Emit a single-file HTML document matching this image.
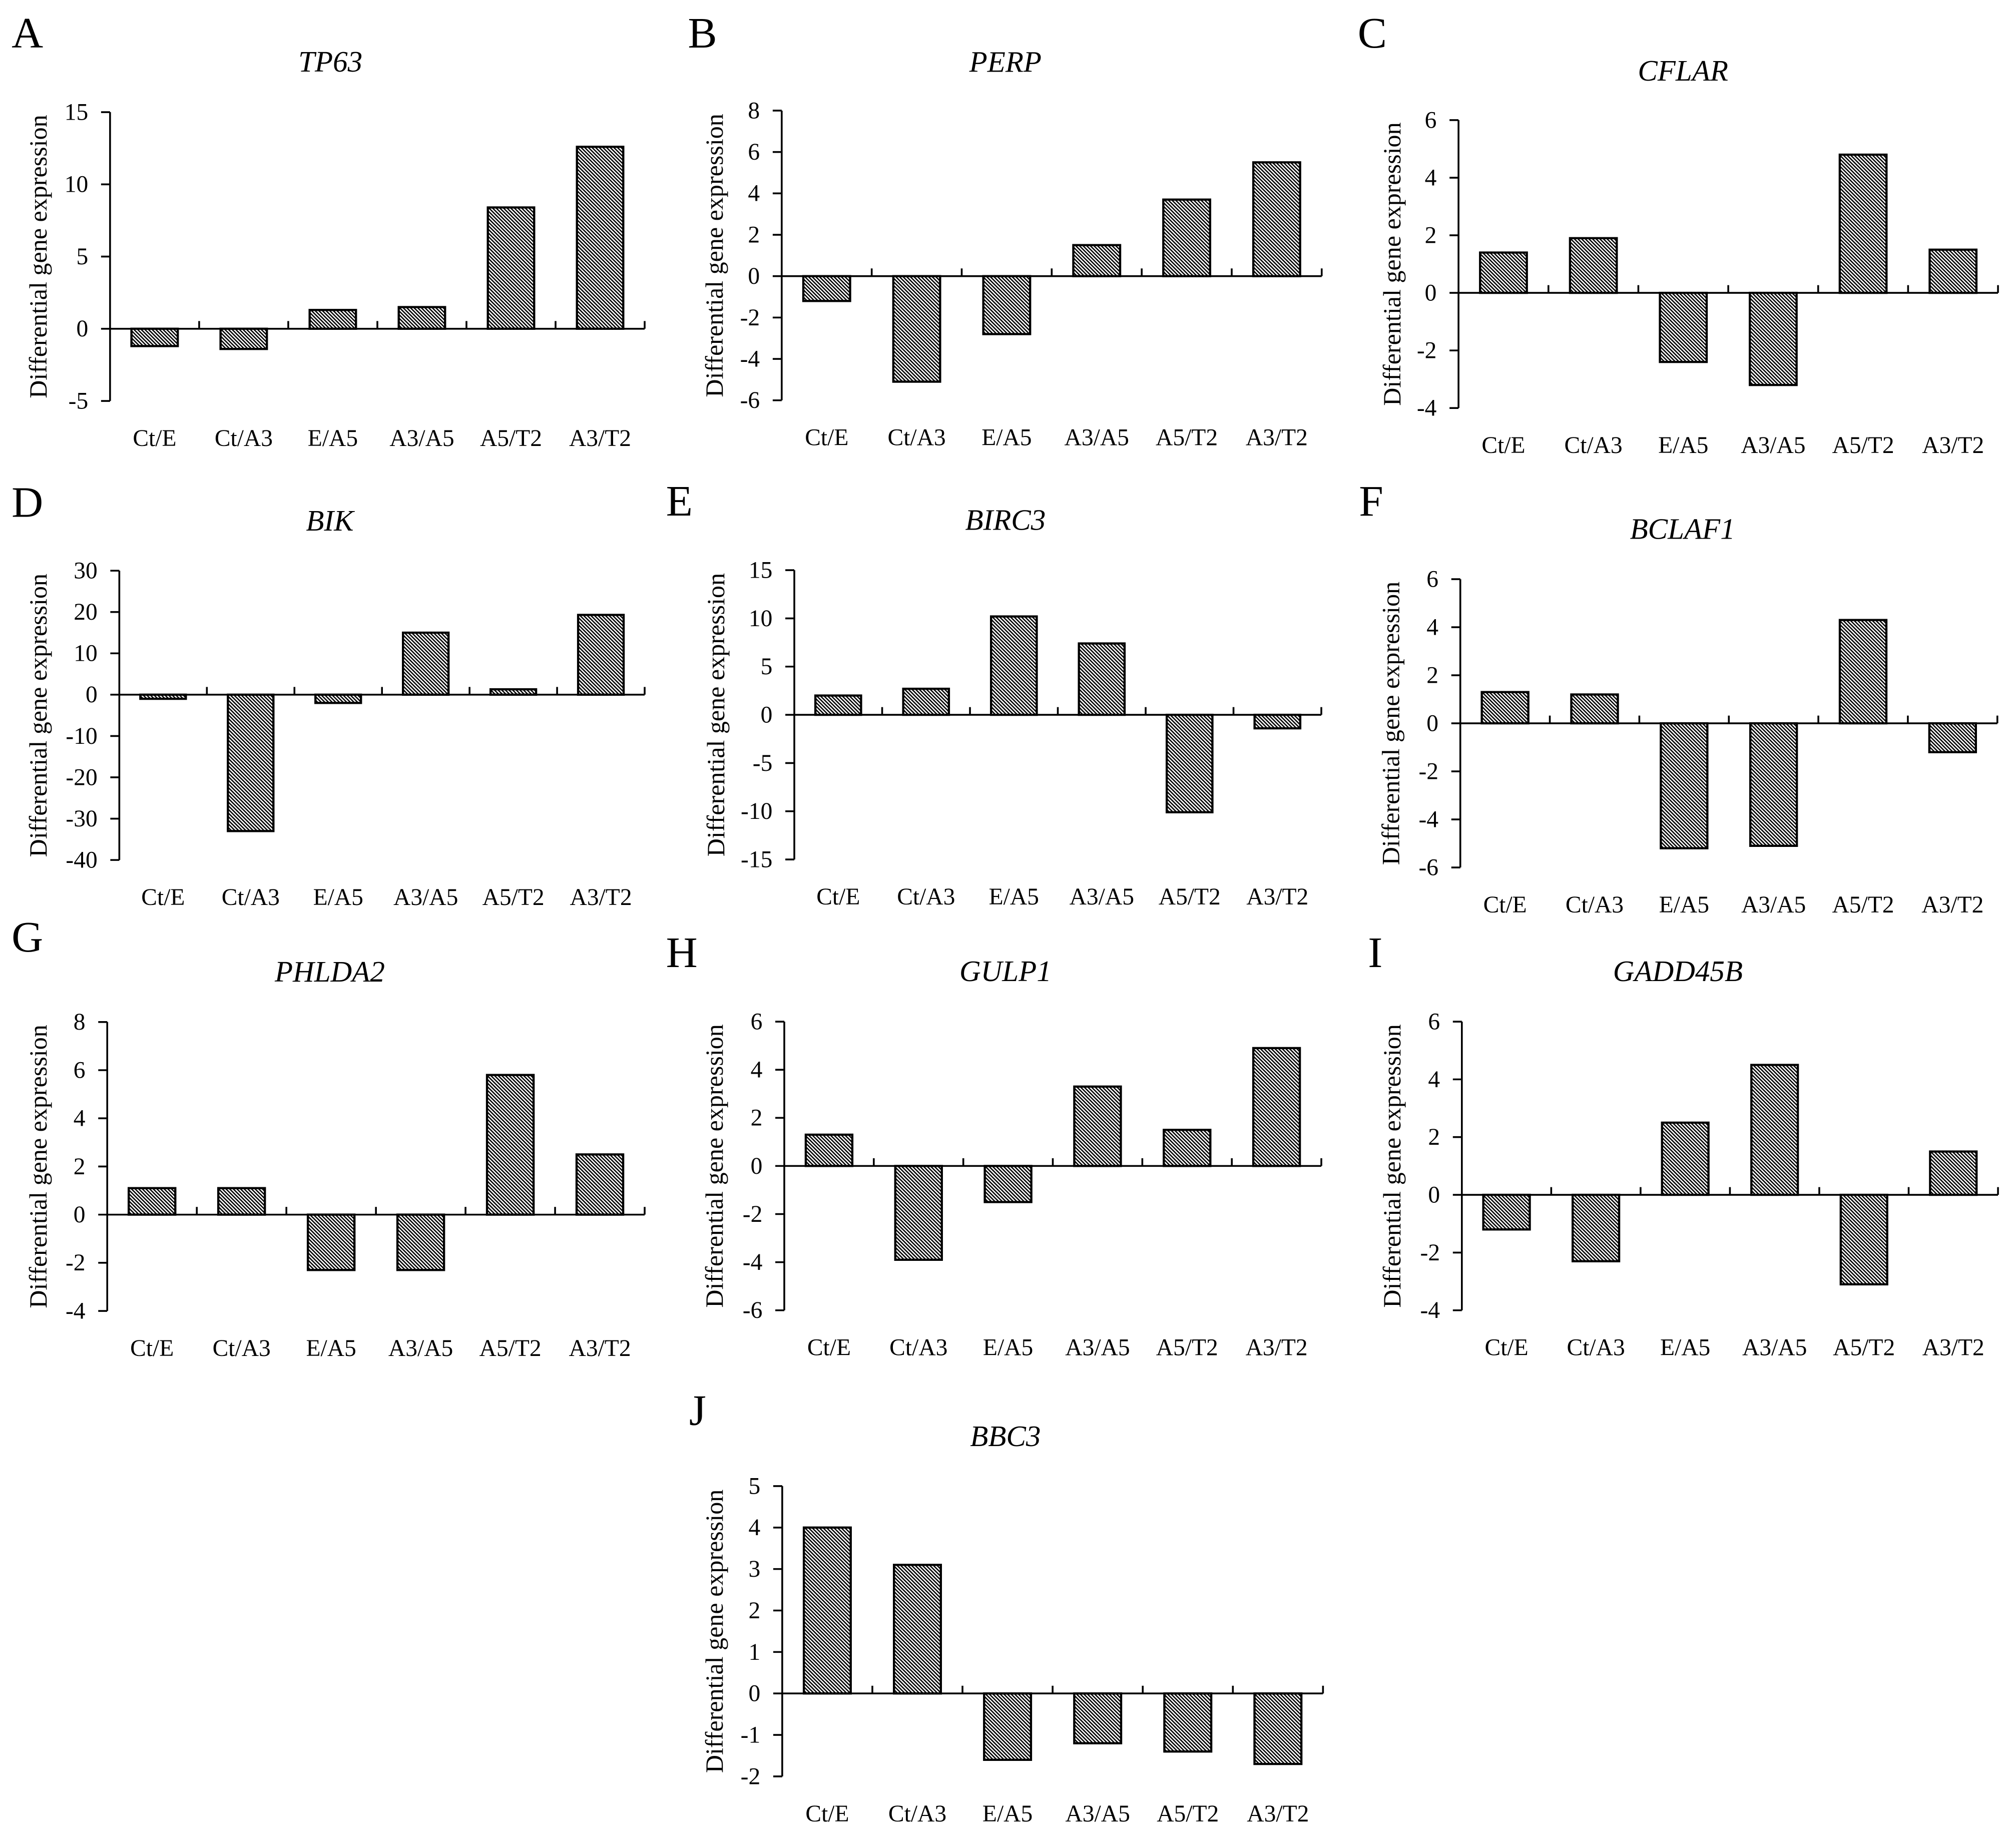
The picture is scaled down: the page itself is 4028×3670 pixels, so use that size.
<!DOCTYPE html>
<html><head><meta charset="utf-8">
<style>
html,body{margin:0;padding:0;background:#fff;}
svg{display:block;}
text{font-family:"Liberation Serif",serif;fill:#000;}
</style></head>
<body>
<svg id="fig" width="4028" height="3670" viewBox="0 0 1568 1428.6" xmlns="http://www.w3.org/2000/svg">
<defs>
<pattern id="hatch" patternUnits="userSpaceOnUse" width="2" height="2" patternTransform="rotate(-45)">
<rect width="2" height="2" fill="#fff"/>
<rect x="0" y="0" width="1" height="2" fill="#000"/>
</pattern>
</defs>
</svg>
<script>
const categories = ["Ct/E","Ct/A3","E/A5","A3/A5","A5/T2","A3/T2"];
const genes = ["TP63","PERP","CFLAR","BIK","BIRC3","BCLAF1","PHLDA2","GULP1","GADD45B","BBC3"];
const letters = ["A","B","C","D","E","F","G","H","I","J"];
const valsTP63   = [-1.2,-1.4,1.3,1.5,8.4,12.6];
const valsPERP   = [-1.2,-5.1,-2.8,1.5,3.7,5.5];
const valsCFLAR  = [1.4,1.9,-2.4,-3.2,4.8,1.5];
const valsBIK    = [-1,-33,-2,15,1.3,19.3];
const valsBIRC3  = [2,2.7,10.2,7.4,-10.1,-1.4];
const valsBCLAF1 = [1.3,1.2,-5.2,-5.1,4.3,-1.2];
const valsPHLDA2 = [1.1,1.1,-2.3,-2.3,5.8,2.5];
const valsGULP1  = [1.3,-3.9,-1.5,3.3,1.5,4.9];
const valsGADD45B= [-1.2,-2.3,2.5,4.5,-3.1,1.5];
const valsBBC3   = [4,3.1,-1.6,-1.2,-1.4,-1.7];
const yMins  = [-5,-6,-4,-40,-15,-6,-4,-6,-4,-2];
const yMaxs  = [15,8,6,30,15,6,8,6,6,5];
const ySteps = [5,2,2,10,5,2,2,2,2,1];
const allVals = [valsTP63,valsPERP,valsCFLAR,valsBIK,valsBIRC3,valsBCLAF1,valsPHLDA2,valsGULP1,valsGADD45B,valsBBC3];

const layout = [
 {x0:85.6,x1:501.4,top:87.2,bot:311.8,tx:257,ty:55.7,lx:9,ly:37,yt:29.5},
 {x0:608,x1:1028,top:86,bot:311.3,tx:782,ty:55.9,lx:535,ly:37,yt:555.5},
 {x0:1134.4,x1:1554,top:93.4,bot:317.3,tx:1309,ty:62.6,lx:1056,ly:37,yt:1082.5},
 {x0:92.8,x1:501.4,top:443.8,bot:668.8,tx:256.5,ty:412.6,lx:9,ly:402,yt:29.5},
 {x0:617.8,x1:1027.7,top:443.4,bot:668.4,tx:782,ty:412,lx:518,ly:401,yt:556.6},
 {x0:1135.8,x1:1553.5,top:450.4,bot:674.6,tx:1308.6,ty:419,lx:1057,ly:401,yt:1081.7},
 {x0:83.4,x1:501.4,top:794.8,bot:1019.5,tx:256.5,ty:763.3,lx:9,ly:740,yt:29.5},
 {x0:610,x1:1027.7,top:794.5,bot:1019,tx:782,ty:763,lx:518,ly:752,yt:555.5},
 {x0:1137,x1:1554,top:794.5,bot:1019,tx:1305,ty:763,lx:1064,ly:752,yt:1082.5},
 {x0:608.4,x1:1029,top:1155.7,bot:1381.5,tx:782,ty:1124.6,lx:536,ly:1108,yt:555.5}
];
const NS="http://www.w3.org/2000/svg";
const svg=document.getElementById('fig');
function mk(tag,attrs,parent){const e=document.createElementNS(NS,tag);for(const k in attrs)e.setAttribute(k,attrs[k]);(parent||svg).appendChild(e);return e;}

for(let p=0;p<10;p++){
  const L=layout[p], vals=allVals[p], mn=yMins[p], mx=yMaxs[p], st=ySteps[p];
  const g=mk('g',{});
  
  
  const yScale=v=>L.bot-(v-mn)/(mx-mn)*(L.bot-L.top);
  const sp=(L.x1-L.x0)/categories.length;
  const xC=i=>L.x0+(i+0.5)*sp;
  const y0=yScale(0);
  let t=mk('text',{x:L.lx,y:L.ly,'font-size':34},g);t.textContent=letters[p];
  
  
  t=mk('text',{x:L.tx,y:L.ty,'font-size':23,'font-style':'italic','text-anchor':'middle'},g);t.textContent=genes[p];
  
  
  const cy=(L.top+L.bot)/2;
  t=mk('text',{x:L.yt,y:cy,'font-size':19.5,'text-anchor':'middle','dominant-baseline':'central',transform:'rotate(-90 '+L.yt+' '+cy+')'},g);t.textContent='Differential gene expression';
  
  
  vals.forEach((v,i)=>{
    const w=sp*0.52, y=yScale(v);
    const r=mk('rect',{x:xC(i)-w/2,y:Math.min(y,y0),width:w,height:Math.abs(y-y0),fill:'url(#hatch)',stroke:'#000','stroke-width':1.7},g);
    
    
  });
  const ya=mk('line',{x1:L.x0,y1:L.top,x2:L.x0,y2:L.bot,stroke:'#000','stroke-width':1.4},g);
  
  
  for(let v=mn;v<=mx+1e-9;v+=st){
    const y=yScale(v);
    mk('line',{x1:L.x0-7,y1:y,x2:L.x0,y2:y,stroke:'#000','stroke-width':1.4},g);
    const tl=mk('text',{x:L.x0-17,y:y+6,'font-size':18.5,'text-anchor':'end'},g);
    tl.textContent=(v<0?'-':'')+Math.abs(v);
    
    
  }
  const xa=mk('line',{x1:L.x0,y1:y0,x2:L.x1,y2:y0,stroke:'#000','stroke-width':1.4},g);
  
  
  for(let i=1;i<=categories.length;i++){
    const x=L.x0+i*sp;
    mk('line',{x1:x,y1:y0,x2:x,y2:y0-6,stroke:'#000','stroke-width':1.4},g);
  }
  categories.forEach((c,i)=>{
    const tl=mk('text',{x:xC(i),y:L.bot+35,'font-size':18.5,'text-anchor':'middle'},g);
    tl.textContent=c;
    
    
  });
}
</script>
</body></html>
